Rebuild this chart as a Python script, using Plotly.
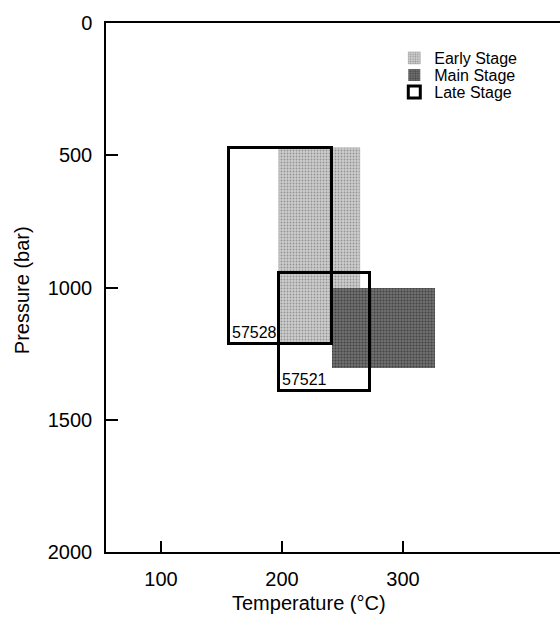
import plotly.graph_objects as go

# Data
early_t = [197.5, 264.5]       # Early Stage temperature range (°C)
early_p = [472, 1215]          # Early Stage pressure range (bar)
main_t = [241, 326]            # Main Stage temperature range
main_p = [1000, 1305]          # Main Stage pressure range
late_ids = ["57528", "57521"]  # Late Stage sample labels
late_tmin = [156.5, 197.5]
late_tmax = [241, 273]
late_pmin = [474, 944]
late_pmax = [1214, 1390]

x_ticks = [100, 200, 300]
y_ticks = [0, 500, 1000, 1500, 2000]

FONT = "Liberation Sans, Arial, Helvetica, sans-serif"

fig = go.Figure()

def bar_from_range(tr, pr):
    return dict(x=[(tr[0] + tr[1]) / 2], width=[tr[1] - tr[0]],
                base=[pr[0]], y=[pr[1] - pr[0]])

fig.add_trace(go.Bar(
    name="Early Stage", legend="legend", **bar_from_range(early_t, early_p),
    marker=dict(color="#c4c4c4", line=dict(color="#a0a0a0", width=0.5),
                pattern=dict(shape=".", fgcolor="#5a5a5a", bgcolor="#cdcdcd",
                             size=3, solidity=0.3)),
))
fig.add_trace(go.Bar(
    name="Main Stage", legend="legend2", **bar_from_range(main_t, main_p),
    marker=dict(color="#606060", line=dict(color="#555555", width=0),
                pattern=dict(shape=".", fgcolor="#151515", bgcolor="#707070",
                             size=3, solidity=0.4)),
))
fig.add_trace(go.Bar(
    name="Late Stage", legend="legend3",
    x=[(a + b) / 2 for a, b in zip(late_tmin, late_tmax)],
    width=[b - a for a, b in zip(late_tmin, late_tmax)],
    base=late_pmin,
    y=[b - a for a, b in zip(late_pmin, late_pmax)],
    marker=dict(color="rgba(0,0,0,0)", line=dict(color="black", width=3)),
))

for lid, t0, p1 in zip(late_ids, late_tmin, late_pmax):
    fig.add_annotation(x=t0, y=p1, xref="x", yref="y", text=lid,
                       showarrow=False, xanchor="left", yanchor="bottom",
                       xshift=1, yshift=1,
                       font=dict(family=FONT, size=16, color="black"))

# Axis titles as annotations
fig.add_annotation(x=0.447, y=-0.096, xref="paper", yref="paper",
                   text="Temperature (°C)", showarrow=False,
                   xanchor="center", yanchor="middle",
                   font=dict(family=FONT, size=20, color="black"))
fig.add_annotation(x=-0.185, y=0.495, xref="paper", yref="paper",
                   text="Pressure (bar)", showarrow=False, textangle=-90,
                   xanchor="center", yanchor="middle",
                   font=dict(family=FONT, size=20, color="black"))

leg_common = dict(x=0.635, xanchor="left", yanchor="middle",
                  bgcolor="rgba(0,0,0,0)", tracegroupgap=0,
                  font=dict(family=FONT, size=16, color="black"),
                  itemwidth=30)

fig.update_layout(
    width=560, height=617,
    margin=dict(l=106, r=0, t=23, b=65, autoexpand=False),
    paper_bgcolor="white", plot_bgcolor="white",
    barmode="overlay", bargap=0,
    font=dict(family=FONT, size=20, color="black"),
    showlegend=True,
    legend=dict(y=1 - (58 - 23) / 529, **leg_common),
    legend2=dict(y=1 - (75 - 23) / 529, **leg_common),
    legend3=dict(y=1 - (92 - 23) / 529, **leg_common),
    xaxis=dict(range=[54.5, 429.7], tickvals=x_ticks, ticks="inside",
               ticklen=11, tickwidth=1.5, tickcolor="black", automargin=False,
               showline=True, linecolor="black", linewidth=1.5, mirror=True,
               showgrid=False, zeroline=False, ticklabelstandoff=8,
               tickfont=dict(family=FONT, size=20, color="black")),
    yaxis=dict(range=[2000, 0], tickvals=y_ticks, ticks="inside",
               ticklen=12, tickwidth=1.5, tickcolor="black", automargin=False,
               showline=True, linecolor="black", linewidth=1.5,
               showgrid=False, zeroline=False, ticklabelstandoff=8,
               tickfont=dict(family=FONT, size=20, color="black")),
)

# Remove the browser's default page margin so the figure fills the window,
# and hide the mode bar.
fig.write_html(
    "out.html",
    config={"displayModeBar": False},
    post_script="document.body.style.margin='0';"
                "document.body.style.overflow='hidden';",
)
